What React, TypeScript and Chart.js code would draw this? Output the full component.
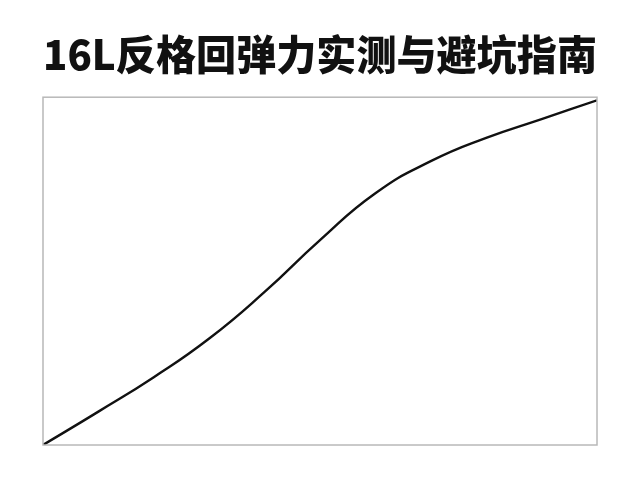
import { useEffect, useRef } from 'react'
import { Chart, registerables } from 'chart.js'

Chart.register(...registerables)

const TITLE = '16L反格回弹力实测与避坑指南'

// position along the test, 0..10
const steps = [0, 1, 2, 3, 4, 5, 6, 7, 8, 9, 10]
// measured rebound (relative, 0..100)
const rebound = [0, 9.6, 19.5, 30.6, 44.0, 58.9, 72.4, 81.6, 88.3, 93.7, 99.1]

const frame = {
  id: 'frame',
  afterDraw(chart: Chart) {
    const { ctx, chartArea } = chart
    ctx.save()
    ctx.strokeStyle = '#b8b8b8'
    ctx.lineWidth = 1.5
    ctx.strokeRect(chartArea.left, chartArea.top, chartArea.right - chartArea.left, chartArea.bottom - chartArea.top)
    ctx.restore()
  },
}

export default function App() {
  const canvasRef = useRef<HTMLCanvasElement>(null)

  useEffect(() => {
    document.body.style.margin = '0'
    if (!canvasRef.current) return
    const chart = new Chart(canvasRef.current, {
      type: 'line',
      data: {
        datasets: [
          {
            label: 'rebound',
            data: steps.map((x, i) => ({ x, y: rebound[i] })),
            borderColor: '#111111',
            borderWidth: 2.4,
            pointRadius: 0,
            tension: 0.5,
            fill: false,
          },
        ],
      },
      options: {
        animation: false,
        responsive: false,
        layout: { padding: { left: 43, right: 43, top: 0, bottom: 35 } },
        plugins: {
          legend: { display: false },
          tooltip: { enabled: false },
          title: {
            display: true,
            text: TITLE,
            color: '#111111',
            font: { family: '"Noto Sans CJK SC", "Noto Sans", sans-serif', size: 41, weight: '900', lineHeight: 1.2 },
            padding: { top: 30, bottom: 18 },
          },
        },
        scales: {
          x: { type: 'linear', min: 0, max: 10, display: false },
          y: { min: 0, max: 100, display: false },
        },
      },
      plugins: [frame],
    })
    return () => chart.destroy()
  }, [])

  return (
    <div style={{ width: 640, height: 480, background: '#fff' }}>
      <canvas ref={canvasRef} width={640} height={480} />
    </div>
  )
}
